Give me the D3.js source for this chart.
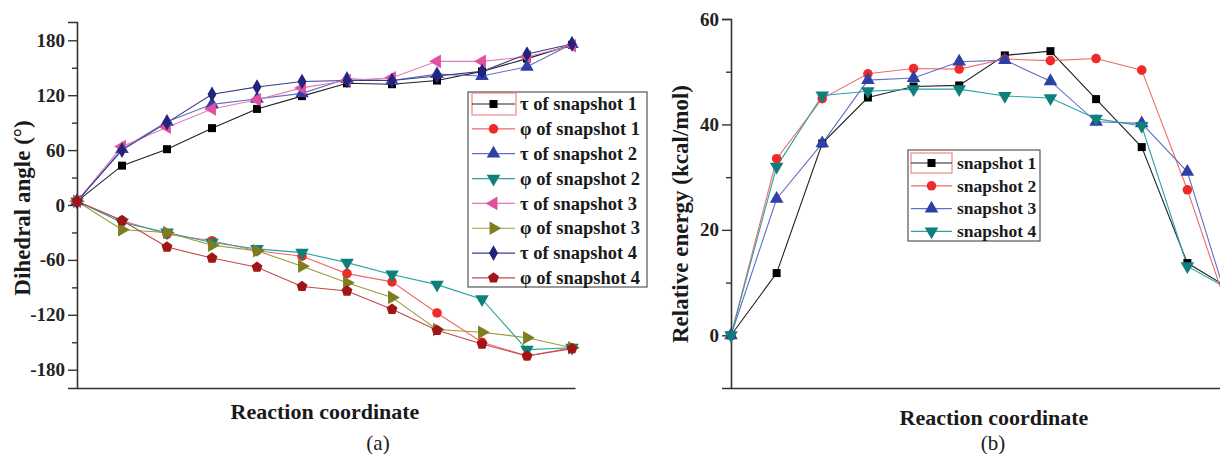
<!DOCTYPE html>
<html>
<head>
<meta charset="utf-8">
<script src="https://cdn.jsdelivr.net/npm/d3@7"></script>
<style>
  html, body { margin: 0; padding: 0; background: #fff; }
  svg { display: block; }
  text { font-family: "Liberation Serif", "Times New Roman", serif; }
</style>
</head>
<body>
<svg id="chart" width="1220" height="454"></svg>
<script>
// ---------- DATA ----------
const steps = [0, 1, 2, 3, 4, 5, 6, 7, 8, 9, 10, 11];

// Panel (a): dihedral angles (degrees)
const tau1 = [4, 43, 61, 84, 105, 119, 133, 132, 136, 146, 160, 175];
const phi1 = [4, -17, -32, -39, -50, -56, -75, -84, -118, -150, -165, -156];
const tau2 = [4, 61, 91, 110, 116, 122, 138, 136, 143, 141, 151, 176];
const phi2 = [4, -19, -30, -41, -48, -52, -63, -76, -87, -103, -158, -156];
const tau3 = [4, 64, 85, 105, 115, 128, 136, 139, 157, 157, 162, 174];
const phi3 = [4, -27, -30, -44, -50, -67, -85, -101, -136, -139, -145, -156];
const tau4 = [4, 60, 90, 121, 129, 135, 136, 136, 141, 146, 165, 176];
const phi4 = [4, -17, -46, -58, -68, -89, -94, -114, -137, -152, -165, -157];

const seriesNamesA = ["τ of snapshot 1", "φ of snapshot 1", "τ of snapshot 2", "φ of snapshot 2",
                      "τ of snapshot 3", "φ of snapshot 3", "τ of snapshot 4", "φ of snapshot 4"];
const angleTicks = [-180, -120, -60, 0, 60, 120, 180];

// Panel (b): relative energy (kcal/mol)
const energy1 = [0, 11.8, 36.4, 45.1, 47.2, 47.4, 53.1, 53.9, 44.8, 35.7, 13.7, 8.5];
const energy2 = [0, 33.5, 44.9, 49.6, 50.6, 50.5, 52.4, 52.1, 52.5, 50.3, 27.6, 2];
const energy3 = [0, 25.9, 36.4, 48.4, 48.8, 51.9, 52.2, 48.2, 40.5, 40.2, 31.0, 3];
const energy4 = [0, 32.0, 45.5, 46.3, 46.7, 46.7, 45.4, 45.0, 41.1, 39.7, 13.1, 8.3];
const seriesNamesB = ["snapshot 1", "snapshot 2", "snapshot 3", "snapshot 4"];
const energyTicks = [0, 20, 40, 60];

// ---------- STYLE ----------
const pentagon = {
  draw(ctx, size) {
    const r = Math.sqrt(size / 2.38);
    for (let k = 0; k < 5; k++) {
      const a = -Math.PI / 2 + k * 2 * Math.PI / 5;
      const px = r * Math.cos(a), py = r * Math.sin(a);
      if (k === 0) ctx.moveTo(px, py); else ctx.lineTo(px, py);
    }
    ctx.closePath();
  }
};
const triLeft = {
  draw(ctx, size) {
    const h = Math.sqrt(size / (Math.sqrt(3) / 4)) ;
    const s = h; // side
    const r = s / Math.sqrt(3);
    for (let k = 0; k < 3; k++) {
      const a = Math.PI + k * 2 * Math.PI / 3;
      const px = r * Math.cos(a), py = r * Math.sin(a);
      if (k === 0) ctx.moveTo(px, py); else ctx.lineTo(px, py);
    }
    ctx.closePath();
  }
};
const triRight = {
  draw(ctx, size) {
    const s = Math.sqrt(size / (Math.sqrt(3) / 4));
    const r = s / Math.sqrt(3);
    for (let k = 0; k < 3; k++) {
      const a = k * 2 * Math.PI / 3;
      const px = r * Math.cos(a), py = r * Math.sin(a);
      if (k === 0) ctx.moveTo(px, py); else ctx.lineTo(px, py);
    }
    ctx.closePath();
  }
};
const triDown = {
  draw(ctx, size) {
    const s = Math.sqrt(size / (Math.sqrt(3) / 4));
    const r = s / Math.sqrt(3);
    for (let k = 0; k < 3; k++) {
      const a = Math.PI / 2 + k * 2 * Math.PI / 3;
      const px = r * Math.cos(a), py = r * Math.sin(a);
      if (k === 0) ctx.moveTo(px, py); else ctx.lineTo(px, py);
    }
    ctx.closePath();
  }
};
const triUp = {
  draw(ctx, size) {
    const s = Math.sqrt(size / (Math.sqrt(3) / 4));
    const r = s / Math.sqrt(3);
    for (let k = 0; k < 3; k++) {
      const a = -Math.PI / 2 + k * 2 * Math.PI / 3;
      const px = r * Math.cos(a), py = r * Math.sin(a);
      if (k === 0) ctx.moveTo(px, py); else ctx.lineTo(px, py);
    }
    ctx.closePath();
  }
};

const styleA = [
  { line: "#222222", fill: "#000000", sym: d3.symbolSquare, size: 64 },
  { line: "#f06a6a", fill: "#ee2a2a", sym: d3.symbolCircle, size: 72 },
  { line: "#6270c0", fill: "#2f3fa8", sym: triUp, size: 80 },
  { line: "#2aa3a0", fill: "#0f7f7c", sym: triDown, size: 80 },
  { line: "#e27ab8", fill: "#e0509e", sym: triLeft, size: 80 },
  { line: "#9a9a3a", fill: "#7d7d22", sym: triRight, size: 80 },
  { line: "#3a3a8a", fill: "#22237a", sym: d3.symbolDiamond, size: 70 },
  { line: "#c04848", fill: "#a01515", sym: pentagon, size: 78 }
];
const styleB = [styleA[0], styleA[1], styleA[2], styleA[3]];

const svg = d3.select("#chart");
svg.append("rect").attr("width", 1220).attr("height", 454).attr("fill", "#fff");

function drawPanel(opts) {
  const { x, y, series, styles, ticks, minorTicks, xAxisEnd } = opts;
  const g = svg.append("g");
  // left axis
  const axisL = d3.axisLeft(y).tickValues(ticks).tickSize(9).tickPadding(3).tickFormat(d3.format("d"));
  const ga = g.append("g").attr("transform", `translate(${x.range()[0]},0)`).call(axisL);
  ga.select(".domain").attr("stroke", "#333").attr("stroke-width", 1.6);
  ga.selectAll(".tick line").attr("stroke", "#333").attr("stroke-width", 1.4);
  ga.selectAll(".tick text").attr("fill", "#222").style("font-size", "19px").style("font-weight", "bold")
    .attr("font-family", '"Liberation Serif", serif').text(d => d < 0 ? "-" + Math.abs(d) : d);
  // minor ticks
  const axisMinor = d3.axisLeft(y).tickValues(minorTicks).tickSize(5).tickFormat("");
  const gm = g.append("g").attr("transform", `translate(${x.range()[0]},0)`).call(axisMinor);
  gm.select(".domain").remove();
  gm.selectAll(".tick line").attr("stroke", "#333").attr("stroke-width", 1.4);
  // bottom axis
  const xb = d3.scaleLinear().domain(x.domain()).range([x.range()[0], xAxisEnd]);
  const axisB = d3.axisBottom(xb).tickValues([]).tickSizeOuter(0);
  const gb = g.append("g").attr("transform", `translate(0,${y.range()[0]})`).call(axisB);
  gb.select(".domain").attr("stroke", "#333").attr("stroke-width", 1.6);

  const line = d3.line().x((d, i) => x(steps[i])).y(d => y(d));
  series.forEach((vals, si) => {
    const st = styles[si];
    g.append("path").datum(vals).attr("d", line).attr("fill", "none")
      .attr("stroke", st.line).attr("stroke-width", 1.1);
  });
  series.forEach((vals, si) => {
    const st = styles[si];
    g.selectAll(null).data(vals).enter().append("path")
      .attr("transform", (d, i) => `translate(${x(steps[i])},${y(d)})`)
      .attr("d", d3.symbol().type(st.sym).size(st.size))
      .attr("fill", st.fill);
  });
}

// ---------- PANEL (a) ----------
const xA = d3.scaleLinear().domain([0, 11]).range([77, 572]);
const yA = d3.scaleLinear().domain([-200, 200]).range([388, 22]);
drawPanel({ x: xA, y: yA, series: [tau1, phi1, tau2, phi2, tau3, phi3, tau4, phi4], styles: styleA,
  ticks: angleTicks, minorTicks: [-150, -90, -30, 30, 90, 150], xAxisEnd: 575 });

// ---------- PANEL (b) ----------
const xB = d3.scaleLinear().domain([0, 11]).range([731, 1233]);
const yB = d3.scaleLinear().domain([-10, 60]).range([388, 19]);
drawPanel({ x: xB, y: yB, series: [energy1, energy2, energy3, energy4], styles: styleB,
  ticks: energyTicks, minorTicks: [10, 30, 50], xAxisEnd: 1240 });

// ---------- LABELS ----------
const lab = (txt, x, y, size, weight, rot) => {
  const t = svg.append("text").text(txt).attr("text-anchor", "middle")
    .style("font-size", size + "px").style("font-weight", weight).attr("fill", "#1a1a1a");
  if (rot) t.attr("transform", `translate(${x},${y}) rotate(-90)`);
  else t.attr("x", x).attr("y", y);
  return t;
};
lab("Dihedral angle (°)", 30, 208, 23, "bold", true);
lab("Reaction coordinate", 325, 419, 22, "bold");
lab("(a)", 378, 450, 21, "normal");
lab("Relative energy (kcal/mol)", 688, 214, 23, "bold", true);
lab("Reaction coordinate", 994, 425, 22, "bold");
lab("(b)", 993, 450, 21, "normal");

// ---------- LEGENDS ----------
function legend(names, styles, box, rows, sample, textX, fontSize, sel) {
  const g = svg.append("g");
  g.append("rect").attr("x", box[0]).attr("y", box[1]).attr("width", box[2]).attr("height", box[3])
    .attr("fill", "#fff").attr("stroke", "#555").attr("stroke-width", 1.2);
  g.append("rect").attr("x", sel[0]).attr("y", sel[1]).attr("width", sel[2]).attr("height", sel[3])
    .attr("fill", "none").attr("stroke", "#e57373").attr("stroke-width", 1);
  names.forEach((nm, i) => {
    const yy = rows[0] + i * rows[1];
    const st = styles[i];
    g.append("line").attr("x1", sample[0]).attr("x2", sample[1]).attr("y1", yy).attr("y2", yy)
      .attr("stroke", st.line).attr("stroke-width", 1.2);
    g.append("path").attr("transform", `translate(${(sample[0] + sample[1]) / 2},${yy})`)
      .attr("d", d3.symbol().type(st.sym).size(st.size)).attr("fill", st.fill);
    g.append("text").attr("x", textX).attr("y", yy).attr("dy", "0.33em").text(nm)
      .style("font-size", fontSize + "px").style("font-weight", "bold").attr("fill", "#1a1a1a");
  });
}
legend(seriesNamesA, styleA, [468, 92, 179, 195], [104, 24.85], [472, 515], 520, 18.5, [472, 93, 44, 22]);
legend(seriesNamesB, styleB, [908, 150, 132, 91], [163, 22.8], [911, 952], 957, 17.5, [911, 153, 41, 20]);
</script>
</body>
</html>
